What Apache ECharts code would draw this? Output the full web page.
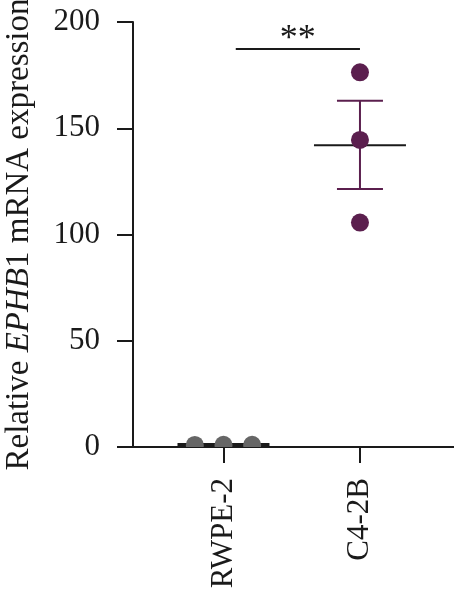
<!DOCTYPE html>
<html>
<head>
<meta charset="utf-8">
<script src="https://cdn.jsdelivr.net/npm/echarts@6/dist/echarts.min.js"></script>
<style>
html,body{margin:0;padding:0;background:#fff;}
#chart{width:454px;height:595px;}
</style>
</head>
<body>
<div id="chart"></div>
<script>
// ---- data ----
const categories = ['RWPE-2', 'C4-2B'];
const categoryPos = [1, 2];
const rwpeValues = [0.95, 1.02, 1.03];
const c42bValues = [176.3, 144.5, 105.6];
const groupMeans = [1.0, 142.0];
const semLow = [0.9, 121.4];
const semHigh = [1.1, 163.0];
const yTicks = [0, 50, 100, 150, 200];
const sigText = '**';
const sigValue = 187.3;
const sigFrom = 1.09;
const sigTo = 2.0;
const yTitle = 'Relative {i|EPHB}1 mRNA expression';

// ---- style ----
const jitter = [-0.21, 0, 0.21];
const gray = '#666666';
const purple = '#5b1f4e';
const ink = '#1a1a1a';
const font = '"Liberation Serif", "Times New Roman", serif';

const chart = echarts.init(document.getElementById('chart'), null, {renderer: 'canvas'});

const meanData = categoryPos.map((x, i) => [x, groupMeans[i], semLow[i], semHigh[i], i]);

function dotItem(color) {
  return function (params, api) {
    const p = api.coord([api.value(0), api.value(1)]);
    return {type: 'circle', shape: {cx: p[0], cy: p[1], r: 9}, style: {fill: color}};
  };
}

const option = {
  animation: false,
  backgroundColor: '#ffffff',
  grid: {left: 133, right: 0, top: 22, bottom: 148, containLabel: false, outerBoundsMode: 'none'},
  xAxis: {
    type: 'value',
    min: 0.337,
    max: 2.689,
    splitLine: {show: false},
    axisLine: {show: true, onZero: false, lineStyle: {color: ink, width: 2}},
    axisTick: {show: true, length: 16, customValues: categoryPos, lineStyle: {color: ink, width: 2}},
    axisLabel: {
      customValues: categoryPos,
      rotate: 90,
      margin: 31,
      fontFamily: font,
      fontSize: 31,
      color: ink,
      formatter: v => categories[categoryPos.indexOf(Math.round(v))] || ''
    }
  },
  yAxis: {
    type: 'value',
    min: 0,
    max: 200,
    interval: 50,
    splitLine: {show: false},
    axisLine: {show: true, onZero: false, lineStyle: {color: ink, width: 2}},
    axisTick: {show: true, length: 16, lineStyle: {color: ink, width: 2}},
    axisLabel: {
      margin: 33,
      fontFamily: font,
      fontSize: 31,
      color: ink,
      customValues: yTicks
    },
    name: yTitle,
    nameLocation: 'middle',
    nameGap: 97,
    nameTextStyle: {
      fontFamily: font,
      fontSize: 33,
      color: ink,
      rich: {i: {fontFamily: font, fontSize: 33, fontStyle: 'italic', color: ink}}
    }
  },
  series: [
    {
      type: 'custom',
      z: 3,
      clip: true,
      data: meanData,
      renderItem: function (params, api) {
        const x = api.value(0);
        const m = api.coord([x, api.value(1)]);
        const lo = api.coord([x, api.value(2)]);
        const hi = api.coord([x, api.value(3)]);
        const idx = api.value(4);
        const ec = idx === 0 ? gray : purple;
        return {
          type: 'group',
          children: [
            {type: 'line', shape: {x1: m[0], y1: lo[1], x2: m[0], y2: hi[1]}, style: {stroke: ec, lineWidth: 2}},
            {type: 'line', shape: {x1: m[0] - 23, y1: lo[1], x2: m[0] + 23, y2: lo[1]}, style: {stroke: ec, lineWidth: 2}},
            {type: 'line', shape: {x1: m[0] - 23, y1: hi[1], x2: m[0] + 23, y2: hi[1]}, style: {stroke: ec, lineWidth: 2}},
            {type: 'line', shape: {x1: m[0] - 46, y1: m[1], x2: m[0] + 46, y2: m[1]}, style: {stroke: ink, lineWidth: idx === 0 ? 4 : 2}}
          ]
        };
      }
    },
    {
      type: 'custom',
      z: 4,
      clip: true,
      data: rwpeValues.map((v, i) => [categoryPos[0] + jitter[i], v]),
      renderItem: dotItem(gray)
    },
    {
      type: 'custom',
      z: 4,
      clip: true,
      data: c42bValues.map(v => [categoryPos[1], v]),
      renderItem: dotItem(purple)
    },
    {
      type: 'custom',
      z: 5,
      clip: false,
      data: [[sigFrom, sigTo, sigValue]],
      renderItem: function (params, api) {
        const a = api.coord([api.value(0), api.value(2)]);
        const b = api.coord([api.value(1), api.value(2)]);
        return {
          type: 'group',
          children: [
            {type: 'line', shape: {x1: a[0], y1: a[1], x2: b[0], y2: b[1]}, style: {stroke: ink, lineWidth: 2}},
            {type: 'text', x: (a[0] + b[0]) / 2, y: a[1] + 9, style: {text: sigText, fontFamily: font, fontSize: 36, fill: ink, align: 'center', verticalAlign: 'bottom'}}
          ]
        };
      }
    }
  ]
};
chart.setOption(option);
</script>
</body>
</html>
